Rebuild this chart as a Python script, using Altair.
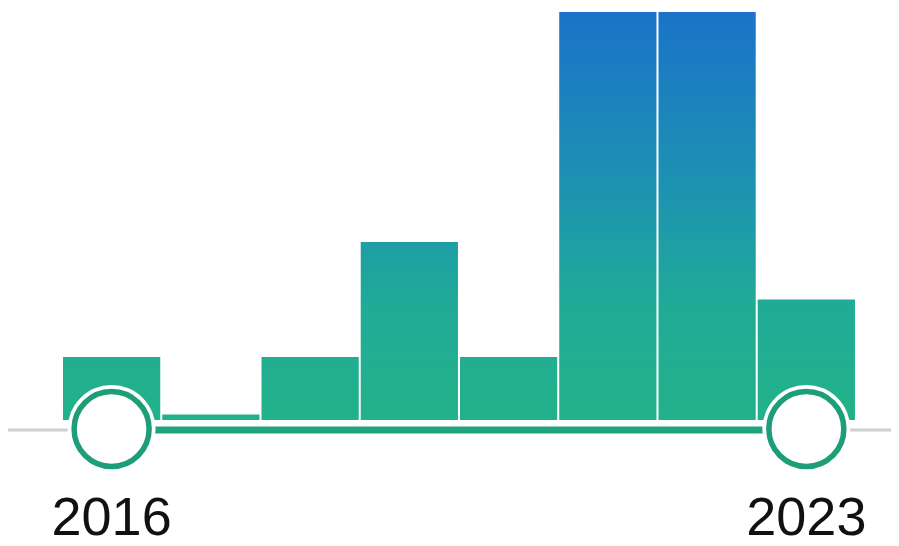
import altair as alt
import pandas as pd

years = [2016, 2017, 2018, 2019, 2020, 2021, 2022, 2023]
counts = [1, 0, 1, 3, 1, 7, 7, 2]
range_start = 2016
range_end = 2023
labels = ["2016", "2023"]

W, H = 883, 530
YMAX = 7
x_scale = alt.Scale(domain=[2014.956, 2023.853], nice=False, zero=False)
y_scale = alt.Scale(domain=[-2.148, 7.070], nice=False, zero=False)
BASE = -0.0957  # bar floor, a little below zero so empty years show a sliver

bars = pd.DataFrame({"year": years, "count": counts})
bars["x0"] = bars["year"] - 0.5
bars["x1"] = bars["year"] + 0.5
bars["base"] = BASE
bars["top"] = YMAX
bars["cover_top"] = 7.07

handles = pd.DataFrame({"year": [range_start, range_end], "label": labels})
track = pd.DataFrame({"a": [range_start], "b": [range_end]})

grad = alt.Gradient(
    gradient="linear", x1=0, y1=0, x2=0, y2=1,
    stops=[
        alt.GradientStop(offset=0, color="#1a73c9"),
        alt.GradientStop(offset=0.45, color="#1d94b0"),
        alt.GradientStop(offset=0.72, color="#20ab97"),
        alt.GradientStop(offset=1, color="#22b28a"),
    ],
)

X = lambda f: alt.X(f, type="quantitative", scale=x_scale, axis=None)
Y = lambda f: alt.Y(f, type="quantitative", scale=y_scale, axis=None)

gray = alt.Chart(track).mark_rule(color="#cfcfcf", strokeWidth=3).encode(
    x=alt.value(-10), x2=alt.value(W + 10), y=alt.value(422)
)

full = alt.Chart(bars).mark_rect(fill=grad, xOffset=1, x2Offset=-1).encode(
    x=X("x0"), x2=alt.X2("x1"), y=Y("base"), y2=alt.Y2("top")
)

cover = alt.Chart(bars).mark_rect(fill="white", strokeWidth=0).encode(
    x=X("x0"), x2=alt.X2("x1"), y=Y("count"), y2=alt.Y2("cover_top")
)

track_line = alt.Chart(track).mark_rule(color="#1fa37c", strokeWidth=7).encode(
    x=X("a"), x2=alt.X2("b"), y=alt.value(422)
)

halo = alt.Chart(handles).mark_point(
    shape="circle", filled=True, fill="white", opacity=1, size=88 * 88, strokeWidth=0
).encode(x=X("year"), y=alt.value(421))

ring = alt.Chart(handles).mark_point(
    shape="circle", filled=False, fill="white", fillOpacity=1, stroke="#1e9e78",
    strokeWidth=5.5, opacity=1, size=75 * 75
).encode(x=X("year"), y=alt.value(421))

text = alt.Chart(handles).mark_text(
    font="Liberation Sans", fontSize=54, color="#111111", baseline="alphabetic", align="center"
).encode(x=X("year"), y=alt.value(527), text="label:N")

chart = alt.layer(gray, full, cover, track_line, halo, ring, text).properties(
    width=W, height=H, padding=0, background="white"
).configure_view(stroke=None).properties(autosize=alt.AutoSizeParams(type="none"))

chart.save("out.html", embed_options={"renderer": "svg", "actions": False})
